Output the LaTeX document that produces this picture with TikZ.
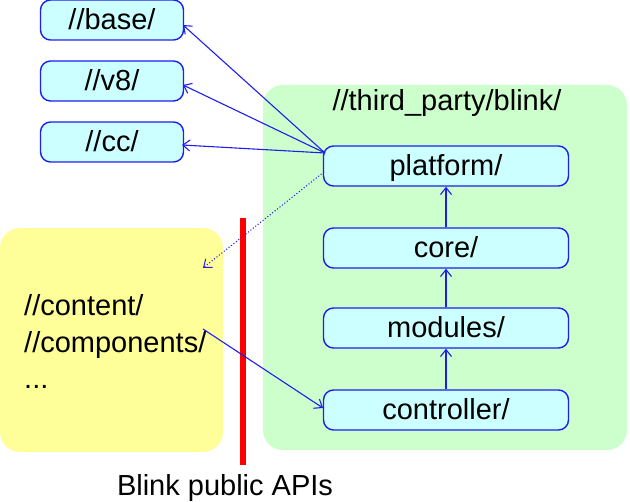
\documentclass[tikz,border=0pt]{standalone}
\usepackage{fontspec}
\setmainfont{Liberation Sans}
\usetikzlibrary{arrows.meta}
\definecolor{boxfill}{HTML}{CCFFFF}
\definecolor{boxline}{RGB}{30,30,240}
\definecolor{greenbg}{HTML}{CCFFCC}
\definecolor{yellowbg}{HTML}{FFFF99}
\definecolor{redbar}{HTML}{FF0000}
\begin{document}
\begin{tikzpicture}[x=1bp,y=-1bp,
  font=\fontsize{29bp}{35bp}\selectfont,
  dirbox/.style={draw=boxline, fill=boxfill, line width=1.4bp, rounded corners=10bp,
    inner sep=0pt, text height=21bp, text depth=2bp},
  smallbox/.style={dirbox, minimum width=143bp, minimum height=40bp},
  bigbox/.style={dirbox, minimum width=245bp, minimum height=40bp},
  region/.style={rounded corners=20bp, draw=none},
  dep/.style={draw=boxline, line width=1.1bp, -{Straight Barb[length=7bp,width=11bp]}},
  weakdep/.style={dep, dotted, line width=1bp},
  lbl/.style={anchor=base west, inner sep=0pt}
]
\useasboundingbox (0,0) rectangle (630,502);
% regions
\fill[region, fill=greenbg] (263,85) rectangle (627,450);
\fill[region, fill=yellowbg] (0,228) rectangle (223,452);
\fill[redbar] (240,218) rectangle (246,465);

% nodes
\node[smallbox] (base) at (112,20) {//base/};
\node[smallbox] (v8) at (112,81) {//v8/};
\node[smallbox] (cc) at (112,142) {//cc/};

\node[inner sep=0pt, anchor=base] (blink) at (447,111) {//third\_party/blink/};
\node[bigbox] (platform) at (446,166) {platform/};
\node[bigbox] (core) at (446,248) {core/};
\node[bigbox] (modules) at (446,328) {modules/};
\node[bigbox] (controller) at (446,410) {controller/};

\node[lbl] (content) at (24,315) {//content/};
\node[lbl] (components) at (24,352) {//components/};
\node[lbl] (dots) at (24,388) {...};

\node[inner sep=0pt, anchor=base] (apis) at (225,495) {Blink public APIs};

% connector end points
\coordinate (pfout) at (325,153);
\coordinate (pfdot) at (324,172);
\coordinate (baseIn) at (183,25);
\coordinate (v8In) at (183,85);
\coordinate (ccIn) at (182,145);
\coordinate (ydot) at (203,268);
\coordinate (compOut) at (203,329);
\coordinate (ctrlIn) at (323,408);

\draw[dep] (pfout) -- (baseIn);
\draw[dep] (pfout) -- (v8In);
\draw[dep] (pfout) -- (ccIn);
\draw[weakdep] (pfdot) -- (ydot);
\draw[dep] (compOut) -- (ctrlIn);
\draw[dep] (controller) -- (modules);
\draw[dep] (modules) -- (core);
\draw[dep] (core) -- (platform);
\end{tikzpicture}
\end{document}
